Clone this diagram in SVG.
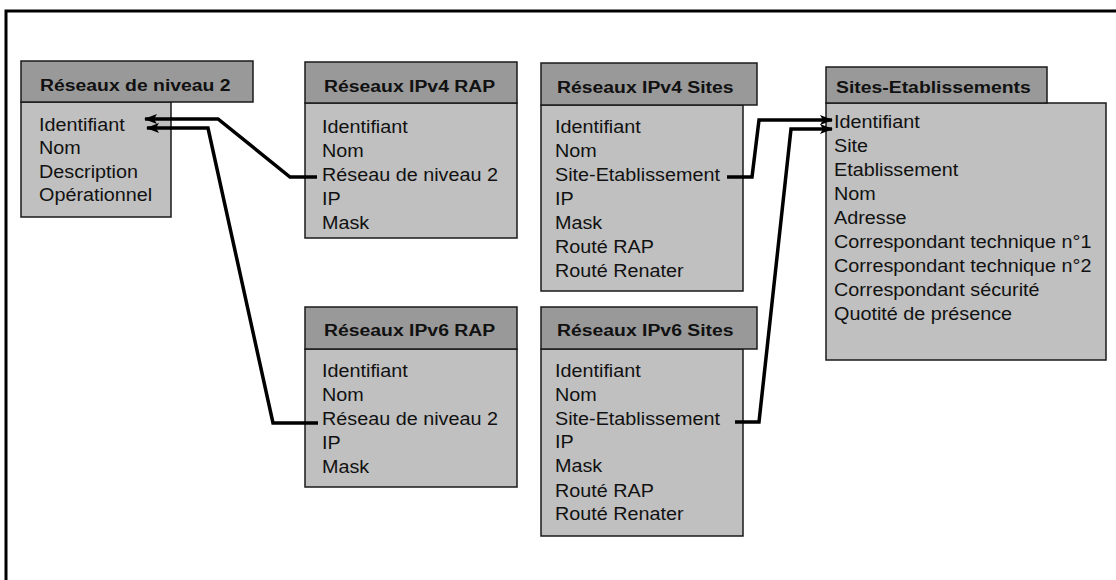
<svg xmlns="http://www.w3.org/2000/svg" width="1116" height="580" viewBox="0 0 1116 580">
  <style>
    .hdr { fill: #999999; stroke: #1a1a1a; stroke-width: 1.5; }
    .body { fill: #c0c0c0; stroke: #1a1a1a; stroke-width: 1.5; }
    .title { font-family: "Liberation Sans", Arial, sans-serif; font-weight: bold; font-size: 17px; fill: #111; }
    .field { font-family: "Liberation Sans", Arial, sans-serif; font-size: 18.5px; fill: #111; }
    .link { fill: none; stroke: #000; stroke-width: 3.5; stroke-linejoin: miter; }
  </style>
  <defs>
    <marker id="arrow" viewBox="0 0 13 10" refX="12" refY="5" markerWidth="13" markerHeight="10" markerUnits="userSpaceOnUse" orient="auto">
      <path d="M0,0 L13,5 L0,10 L3,5 z" fill="#000"/>
    </marker>
  </defs>

  <rect width="1116" height="580" fill="#fff"/>
  <rect x="6" y="11" width="1130" height="600" fill="none" stroke="#000" stroke-width="3"/>

  <!-- Réseaux de niveau 2 -->
  <g id="reseaux-niveau2">
    <rect class="body" x="21" y="102" width="150" height="115"/>
    <rect class="hdr" x="21" y="61" width="232" height="41"/>
    <text class="title" transform="translate(40,91) scale(1.14,1)">Réseaux de niveau 2</text>
    <text class="field" transform="translate(39,131) scale(1.07,1)">
      <tspan x="0" y="0">Identifiant</tspan>
      <tspan x="0" y="23.5">Nom</tspan>
      <tspan x="0" y="47">Description</tspan>
      <tspan x="0" y="70.5">Opérationnel</tspan>
    </text>
  </g>

  <!-- Réseaux IPv4 RAP -->
  <g id="reseaux-ipv4-rap">
    <rect class="body" x="305" y="103" width="212" height="135"/>
    <rect class="hdr" x="305" y="62" width="212" height="41"/>
    <text class="title" transform="translate(324,92) scale(1.14,1)">Réseaux IPv4 RAP</text>
    <text class="field" transform="translate(322,133) scale(1.07,1)">
      <tspan x="0" y="0">Identifiant</tspan>
      <tspan x="0" y="24">Nom</tspan>
      <tspan x="0" y="48">Réseau de niveau 2</tspan>
      <tspan x="0" y="72">IP</tspan>
      <tspan x="0" y="96">Mask</tspan>
    </text>
  </g>

  <!-- Réseaux IPv4 Sites -->
  <g id="reseaux-ipv4-sites">
    <rect class="body" x="541" y="105" width="202" height="186"/>
    <rect class="hdr" x="541" y="63" width="216" height="42"/>
    <text class="title" transform="translate(557,93) scale(1.14,1)">Réseaux IPv4 Sites</text>
    <text class="field" transform="translate(555,133) scale(1.07,1)">
      <tspan x="0" y="0">Identifiant</tspan>
      <tspan x="0" y="24">Nom</tspan>
      <tspan x="0" y="48">Site-Etablissement</tspan>
      <tspan x="0" y="72">IP</tspan>
      <tspan x="0" y="96">Mask</tspan>
      <tspan x="0" y="120">Routé RAP</tspan>
      <tspan x="0" y="144">Routé Renater</tspan>
    </text>
  </g>

  <!-- Sites-Etablissements -->
  <g id="sites-etablissements">
    <rect class="body" x="826" y="103" width="280" height="257"/>
    <rect class="hdr" x="826" y="67" width="221" height="36"/>
    <text class="title" transform="translate(836,93) scale(1.14,1)">Sites-Etablissements</text>
    <text class="field" transform="translate(834,128) scale(1.07,1)">
      <tspan x="0" y="0">Identifiant</tspan>
      <tspan x="0" y="24">Site</tspan>
      <tspan x="0" y="48">Etablissement</tspan>
      <tspan x="0" y="72">Nom</tspan>
      <tspan x="0" y="96">Adresse</tspan>
      <tspan x="0" y="120">Correspondant technique n°1</tspan>
      <tspan x="0" y="144">Correspondant technique n°2</tspan>
      <tspan x="0" y="168">Correspondant sécurité</tspan>
      <tspan x="0" y="192">Quotité de présence</tspan>
    </text>
  </g>

  <!-- Réseaux IPv6 RAP -->
  <g id="reseaux-ipv6-rap">
    <rect class="body" x="305" y="349" width="212" height="138"/>
    <rect class="hdr" x="305" y="307" width="212" height="42"/>
    <text class="title" transform="translate(324,336) scale(1.14,1)">Réseaux IPv6 RAP</text>
    <text class="field" transform="translate(322,377) scale(1.07,1)">
      <tspan x="0" y="0">Identifiant</tspan>
      <tspan x="0" y="24">Nom</tspan>
      <tspan x="0" y="48">Réseau de niveau 2</tspan>
      <tspan x="0" y="72">IP</tspan>
      <tspan x="0" y="96">Mask</tspan>
    </text>
  </g>

  <!-- Réseaux IPv6 Sites -->
  <g id="reseaux-ipv6-sites">
    <rect class="body" x="541" y="349" width="202" height="187"/>
    <rect class="hdr" x="541" y="307" width="216" height="42"/>
    <text class="title" transform="translate(557,336) scale(1.14,1)">Réseaux IPv6 Sites</text>
    <text class="field" transform="translate(555,377) scale(1.07,1)">
      <tspan x="0" y="0">Identifiant</tspan>
      <tspan x="0" y="24">Nom</tspan>
      <tspan x="0" y="48">Site-Etablissement</tspan>
      <tspan x="0" y="71">IP</tspan>
      <tspan x="0" y="95">Mask</tspan>
      <tspan x="0" y="120">Routé RAP</tspan>
      <tspan x="0" y="143">Routé Renater</tspan>
    </text>
  </g>

  <!-- Foreign-key links -->
  <g id="connectors">
    <path class="link" d="M317,177 L290,177 L218,119 L145,119" marker-end="url(#arrow)"/>
    <path class="link" d="M318,423 L273,423 L208,128 L147,128" marker-end="url(#arrow)"/>
    <path class="link" d="M727,177 L752,177 L759,120 L832,120" marker-end="url(#arrow)"/>
    <path class="link" d="M735,422 L759,422 L791,129 L832,129" marker-end="url(#arrow)"/>
  </g>
</svg>
